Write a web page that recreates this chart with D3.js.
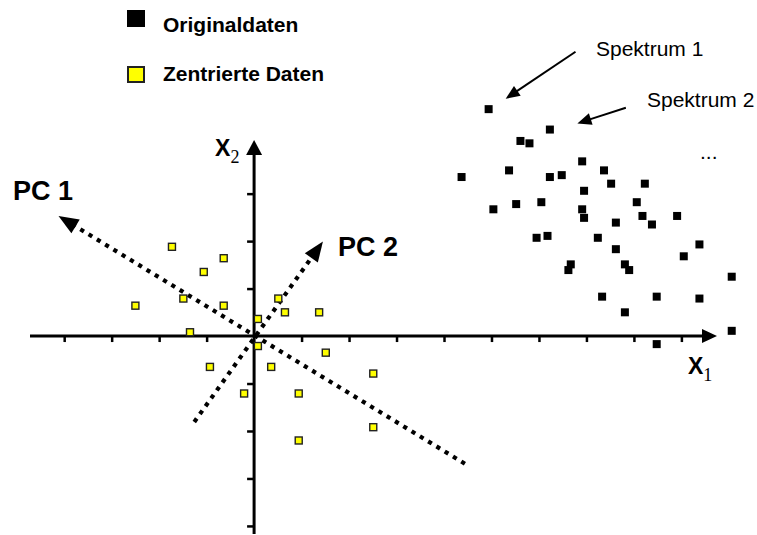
<!DOCTYPE html>
<html>
<head>
<meta charset="utf-8">
<script src="https://cdn.jsdelivr.net/npm/d3@7"></script>
<style>
  html, body { margin: 0; padding: 0; background: #fff; }
  svg { display: block; }
</style>
</head>
<body>
<svg id="chart" width="757" height="535"></svg>
<script>
// Original spectra (black) in X1/X2 units
const origX = [4.94, 6.23, 5.61, 5.80, 6.91, 4.37, 5.37, 6.23, 6.48, 7.37,
               7.52, 8.23, 6.95, 5.04, 5.52, 6.05, 6.91, 6.95, 8.06, 8.18,
               8.38, 8.91, 7.62, 5.95, 6.18, 7.24, 7.62, 6.67, 6.62, 7.81,
               7.90, 9.38, 9.05, 10.06, 7.33, 8.48, 9.38, 7.81, 10.06, 8.48];
const origY = [4.78, 4.35, 4.11, 4.06, 3.68, 3.35, 3.49, 3.35, 3.39, 3.49,
               3.21, 3.21, 3.06, 2.67, 2.78, 2.82, 2.67, 2.49, 2.82, 2.53,
               2.35, 2.53, 2.39, 2.07, 2.11, 2.07, 1.83, 1.51, 1.39, 1.51,
               1.39, 1.93, 1.68, 1.25, 0.83, 0.83, 0.79, 0.50, 0.11, -0.17];

// Mean-centred data (yellow)
const centX = [-1.73, -0.64, -1.06, -1.49, -2.50, -0.64, -1.35, 0.51, 0.65, 1.37,
               0.08, 0.08, 1.51, -0.93, 0.36, 2.51, -0.21, 0.94, 2.51, 0.94];
const centY = [1.88, 1.64, 1.35, 0.79, 0.64, 0.64, 0.08, 0.79, 0.50, 0.50,
               0.36, -0.21, -0.35, -0.65, -0.65, -0.79, -1.21, -1.21, -1.92, -2.20];

// Principal component directions: [start, arrow tip]
const pc1 = [[4.44, -2.69], [-4.12, 2.53]];
const pc2 = [[-1.26, -1.81], [1.45, 1.99]];

// Tick positions on both axes
const xTicks = [-4, -3, -2, -1, 1, 2, 3, 4, 5, 6, 7, 8, 9];
const yTicks = [-4, -3, -2, -1, 1, 2, 3];

// Axis extents
const xExtent = [-4.72, 9.75];
const yExtent = [-4.17, 4.13];

const legendLabels = ["Originaldaten", "Zentrierte Daten"];
const pcLabels = ["PC 1", "PC 2"];
const spectrumLabels = ["Spektrum 1", "Spektrum 2"];

const svg = d3.select("#chart");
const W = 757, H = 535;
svg.append("rect").attr("width", W).attr("height", H).attr("fill", "#fff");

const x = d3.scaleLinear().domain(xExtent).range([30, 717]);
const y = d3.scaleLinear().domain(yExtent).range([534, 140]);

const SANS = "Arial, 'Liberation Sans', Helvetica, sans-serif";
const SERIF = "'Times New Roman', 'Liberation Serif', serif";

// Draws a line from (x1,y1) to (x2,y2) ending in a filled triangular head
function arrow(g, x1, y1, x2, y2, len, halfW, strokeW, dash) {
  const dx = x2 - x1, dy = y2 - y1, L = Math.hypot(dx, dy);
  const ux = dx / L, uy = dy / L;
  const bx = x2 - ux * len, by = y2 - uy * len;
  g.append("line")
    .attr("x1", x1).attr("y1", y1)
    .attr("x2", bx + ux * 1).attr("y2", by + uy * 1)
    .attr("stroke", "#000")
    .attr("stroke-width", strokeW)
    .attr("stroke-dasharray", dash || null);
  g.append("path")
    .attr("d", `M${x2},${y2}L${bx - uy * halfW},${by + ux * halfW}L${bx + uy * halfW},${by - ux * halfW}Z`)
    .attr("fill", "#000");
}

// ---- axes ----
const axes = svg.append("g");
const xAxis = axes.append("g")
  .attr("transform", `translate(0,${y(0)})`)
  .call(d3.axisBottom(x).tickValues(xTicks).tickSize(6).tickSizeOuter(0).tickFormat(""));
const yAxis = axes.append("g")
  .attr("transform", `translate(${x(0)},0)`)
  .call(d3.axisLeft(y).tickValues(yTicks).tickSize(7).tickSizeOuter(0).tickFormat(""));
[xAxis, yAxis].forEach(a => {
  a.select(".domain").remove();
  a.selectAll(".tick line").attr("stroke", "#000").attr("stroke-width", 2.5);
});
arrow(axes, x(xExtent[0]), y(0), x(xExtent[1]), y(0), 15, 7, 3);
arrow(axes, x(0), y(yExtent[0]), x(0), y(yExtent[1]), 15, 8, 3);

// axis titles with subscripts
function axisTitle(px, py, sub) {
  const t = svg.append("text").attr("x", px).attr("y", py)
    .attr("font-family", SANS).attr("font-weight", "bold").attr("font-size", 23)
    .attr("fill", "#000");
  t.append("tspan").text("X");
  t.append("tspan").attr("font-family", SERIF).attr("font-weight", "normal")
    .attr("font-size", 18).attr("dy", 7).text(sub);
}
axisTitle(x(0) - 39, y(yExtent[1]) + 16, "2");
axisTitle(x(xExtent[1]) - 29, y(0) + 38, "1");

// ---- principal component arrows ----
const pcs = svg.append("g");
[pc1, pc2].forEach(p => {
  arrow(pcs, x(p[0][0]), y(p[0][1]), x(p[1][0]), y(p[1][1]), 20, 8, 4.2, "4.2 5.5");
});
svg.append("text").attr("x", 13).attr("y", 200)
  .attr("font-family", SANS).attr("font-weight", "bold").attr("font-size", 27)
  .text(pcLabels[0]);
svg.append("text").attr("x", 338).attr("y", 256)
  .attr("font-family", SANS).attr("font-weight", "bold").attr("font-size", 27)
  .text(pcLabels[1]);

// ---- points ----
const S = 8;
svg.append("g").selectAll("rect")
  .data(d3.zip(origX, origY))
  .join("rect")
  .attr("x", d => x(d[0]) - S / 2)
  .attr("y", d => y(d[1]) - S / 2)
  .attr("width", S).attr("height", S)
  .attr("fill", "#000");

svg.append("g").selectAll("rect")
  .data(d3.zip(centX, centY))
  .join("rect")
  .attr("x", d => x(d[0]) - (S - 1) / 2)
  .attr("y", d => y(d[1]) - (S - 1) / 2)
  .attr("width", S - 1).attr("height", S - 1)
  .attr("fill", "#ffff00")
  .attr("stroke", "#222")
  .attr("stroke-width", 1.4);

// ---- spectrum annotations ----
const ann = svg.append("g");
arrow(ann, x(6.77), y(5.99), x(5.30), y(5.00), 14, 6, 2);
arrow(ann, x(7.83), y(4.81), x(6.81), y(4.48), 14, 6, 2);
ann.append("text").attr("x", 596).attr("y", 56)
  .attr("font-family", SANS).attr("font-size", 21).text(spectrumLabels[0]);
ann.append("text").attr("x", 647).attr("y", 107)
  .attr("font-family", SANS).attr("font-size", 21).text(spectrumLabels[1]);
ann.append("text").attr("x", 700).attr("y", 159)
  .attr("font-family", SANS).attr("font-size", 21).text("...");

// ---- legend ----
const leg = svg.append("g");
leg.append("rect").attr("x", 127).attr("y", 10).attr("width", 18).attr("height", 17)
  .attr("fill", "#000");
leg.append("rect").attr("x", 128).attr("y", 67).attr("width", 16).attr("height", 15)
  .attr("fill", "#ffff00").attr("stroke", "#222").attr("stroke-width", 2);
leg.append("text").attr("x", 163).attr("y", 32)
  .attr("font-family", SANS).attr("font-weight", "bold").attr("font-size", 21)
  .text(legendLabels[0]);
leg.append("text").attr("x", 163).attr("y", 81)
  .attr("font-family", SANS).attr("font-weight", "bold").attr("font-size", 21)
  .text(legendLabels[1]);
</script>
</body>
</html>
